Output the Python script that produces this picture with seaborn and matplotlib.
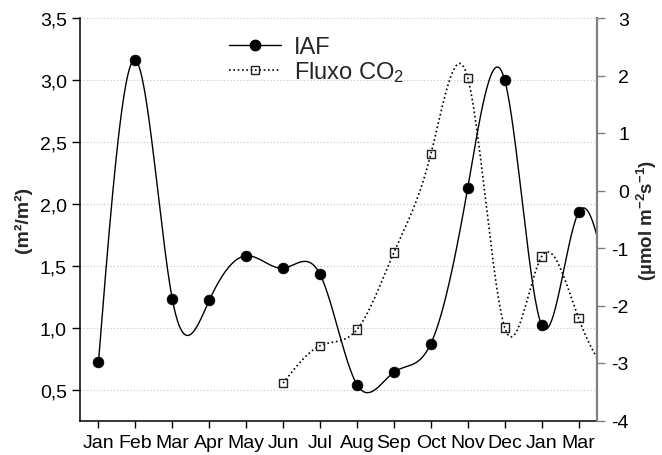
import numpy as np
import pandas as pd
import matplotlib
matplotlib.use("Agg")
import matplotlib.pyplot as plt
from matplotlib.lines import Line2D
from matplotlib.ticker import FuncFormatter
import seaborn as sns

# Sampling months (the trailing "Apr" sample lies just past the plotted range)
months = ["Jan", "Feb", "Mar", "Apr", "May", "Jun", "Jul", "Aug", "Sep",
          "Oct", "Nov", "Dec", "Jan", "Mar", "Apr"]
# Leaf area index (m²/m²), one value per month
iaf = [0.72, 3.16, 1.23, 1.22, 1.58, 1.48, 1.43, 0.54, 0.64,
       0.87, 2.13, 3.00, 1.02, 1.93, 0.98]
# CO2 flux (µmol m-2 s-1), measured from June onwards
co2_months_idx = [5, 6, 7, 8, 9, 10, 11, 12, 13, 14]
co2 = [-3.35, -2.70, -2.42, -1.08, 0.63, 1.96, -2.38, -1.15, -2.22, -3.40]

VISIBLE = 14  # number of labelled months on the x axis


def natural_spline(x, y, xs):
    x = np.asarray(x, float)
    y = np.asarray(y, float)
    n = len(x)
    h = np.diff(x)
    A = np.zeros((n, n))
    r = np.zeros(n)
    A[0, 0] = 1.0
    A[-1, -1] = 1.0
    for i in range(1, n - 1):
        A[i, i - 1] = h[i - 1]
        A[i, i] = 2 * (h[i - 1] + h[i])
        A[i, i + 1] = h[i]
        r[i] = 6 * ((y[i + 1] - y[i]) / h[i] - (y[i] - y[i - 1]) / h[i - 1])
    M = np.linalg.solve(A, r)
    i = np.clip(np.searchsorted(x, xs) - 1, 0, n - 2)
    hi = h[i]
    a = x[i + 1] - xs
    b = xs - x[i]
    return (M[i] * a ** 3 / (6 * hi) + M[i + 1] * b ** 3 / (6 * hi)
            + (y[i] / hi - M[i] * hi / 6) * a + (y[i + 1] / hi - M[i + 1] * hi / 6) * b)


sns.set_style("white")
plt.rcParams["font.family"] = ["Liberation Sans", "DejaVu Sans"]
plt.rcParams["mathtext.fontset"] = "custom"
plt.rcParams["mathtext.rm"] = "Liberation Sans"
plt.rcParams["mathtext.bf"] = "Liberation Sans:bold"
plt.rcParams["mathtext.default"] = "regular"
plt.rcParams["axes.unicode_minus"] = False

fig = plt.figure(figsize=(6.62, 4.56), dpi=100)
W, H = 662, 456
ax = fig.add_axes([80 / W, (H - 421.5) / H, (597 - 80) / W, (421.5 - 19) / H])
ax2 = ax.twinx()

x_iaf = np.arange(len(iaf))
xs_iaf = np.linspace(x_iaf[0], x_iaf[-1], 800)
iaf_df = pd.DataFrame({"x": xs_iaf, "y": natural_spline(x_iaf, iaf, xs_iaf)})
pts_iaf = pd.DataFrame({"x": x_iaf, "y": iaf})

x_co2 = np.array(co2_months_idx)
xs_co2 = np.linspace(x_co2[0], x_co2[-1], 600)
co2_df = pd.DataFrame({"x": xs_co2, "y": natural_spline(x_co2, co2, xs_co2)})
pts_co2 = pd.DataFrame({"x": x_co2, "y": co2})

# horizontal dotted grid at the left-axis ticks
for v in np.arange(0.5, 3.51, 0.5):
    ax.axhline(v, color="#c4c4c4", lw=0.8, ls=(0, (1, 2)), zorder=0)

sns.lineplot(data=iaf_df, x="x", y="y", ax=ax, color="black", lw=1.0,
             estimator=None, sort=False, legend=False)
sns.scatterplot(data=pts_iaf, x="x", y="y", ax=ax, color="black", s=60,
                marker="o", edgecolor="black", linewidth=0.5, zorder=5, legend=False)

sns.lineplot(data=co2_df, x="x", y="y", ax=ax2, color="black", lw=1.2,
             estimator=None, sort=False, legend=False)
ax2.lines[-1].set_linestyle((0, (1, 1.6)))
sns.scatterplot(data=pts_co2, x="x", y="y", ax=ax2, marker="s", s=36,
                facecolor="none", edgecolor="#222222", linewidth=1.0, zorder=5,
                legend=False)

ax.set_xlim(-0.5, VISIBLE - 0.5)
ax.set_ylim(0.25, 3.5)
ax2.set_ylim(-4, 3)

ax.set_xticks(range(VISIBLE))
ax.set_xticklabels(months[:VISIBLE])
ax.set_yticks(np.arange(0.5, 3.51, 0.5))
ax.yaxis.set_major_formatter(FuncFormatter(lambda v, p: f"{v:.1f}".replace(".", ",")))
ax2.set_yticks(range(-4, 4))

tick_fs = 14
ax.tick_params(axis="x", direction="out", length=5, width=1, labelsize=tick_fs,
               pad=5, bottom=True, colors="black")
ax.tick_params(axis="y", direction="out", length=6, width=1, labelsize=tick_fs,
               left=True, colors="black")
ax2.tick_params(axis="y", direction="out", length=6, width=1, labelsize=tick_fs,
                right=True, color="#808080", labelcolor="black", pad=17)
for lbl in ax2.get_yticklabels():
    lbl.set_horizontalalignment("right")

ax.set_xlabel("")
ax.set_ylabel("(m²/m²)", fontsize=14, fontweight="bold")
ax.yaxis.set_label_coords(-0.093, 0.5)
ax2.set_ylabel(r"(µmol m$^{\mathbf{-2}}$s$^{\mathbf{-1}}$)", fontsize=13.5,
               fontweight="bold", rotation=90)
ax2.yaxis.set_label_coords(1.073, 0.5)

for s in ["top", "right"]:
    ax.spines[s].set_visible(False)
for s in ["left", "bottom"]:
    ax.spines[s].set_color("black")
    ax.spines[s].set_linewidth(1.1)
for s in ["top", "left", "bottom"]:
    ax2.spines[s].set_visible(False)
ax2.spines["right"].set_color("#808080")
ax2.spines["right"].set_linewidth(1.6)

handles = [
    Line2D([], [], color="black", lw=1.0, marker="o", markersize=7.5),
    Line2D([], [], color="black", lw=1.2, ls=(0, (1, 1.6)), marker="s", markersize=5.5,
           markerfacecolor="none", markeredgecolor="#222222"),
]
fig.legend(handles, ["IAF", r"Fluxo CO$_2$"], loc="upper left",
           bbox_to_anchor=(229 / W, 1 - 37 / H), frameon=False, fontsize=17,
           handlelength=2.2, handletextpad=0.55, labelspacing=0.05, borderpad=0,
           borderaxespad=0)

fig.savefig("out.png", dpi=100)
